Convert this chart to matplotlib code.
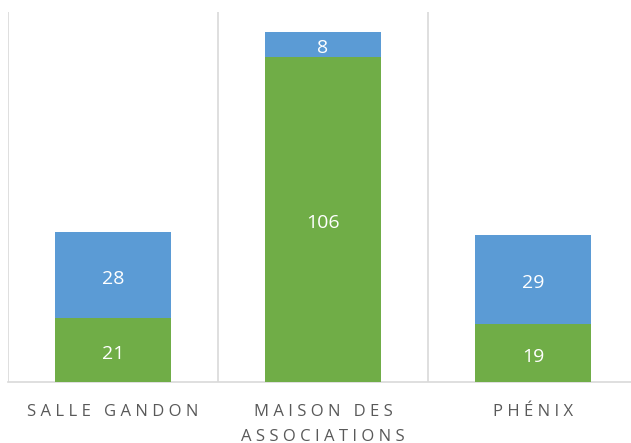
import numpy as np
import matplotlib.pyplot as plt

categories = ["SALLE GANDON", "MAISON DES\nASSOCIATIONS", "PHÉNIX"]
green_vals = [21, 106, 19]
blue_vals = [28, 8, 29]

GREEN = "#70AD47"
BLUE = "#5B9BD5"
GRID = "#D9D9D9"
TEXT = "#595959"

plt.rcParams['font.family'] = ['Open Sans', 'DejaVu Sans']


def spaced(s):
    # mimic the wide letter spacing of the original labels with thin spaces
    return "\n".join("\u2009\u200a".join(line) for line in s.split("\n"))


fig = plt.figure(figsize=(6.31, 4.43), dpi=100)
W, H = 631, 443
left, right_px, base, top = 8, 631, 382, 12
ax = fig.add_axes([left / W, (H - base) / H, (right_px - left) / W, (base - top) / H])

cat_px = 210.0
x = np.arange(len(categories))
ax.set_xlim(-0.5, -0.5 + (right_px - left) / cat_px)
ax.set_ylim(0, 120.5)

width = 0.556
b1 = ax.bar(x, green_vals, width, color=GREEN, zorder=3)
b2 = ax.bar(x, blue_vals, width, bottom=green_vals, color=BLUE, zorder=3)
labels = ax.bar_label(b1, label_type='center', color='white', fontsize=14)
labels += ax.bar_label(b2, label_type='center', color='white', fontsize=14)
for t in labels:
    t.xyann = (0, -3)

for xv in [-0.5, 0.5, 1.5]:
    ax.axvline(xv, color=GRID, lw=1.2, zorder=1)

for s in ['top', 'right', 'left']:
    ax.spines[s].set_visible(False)
ax.spines['bottom'].set_color(GRID)
ax.spines['bottom'].set_linewidth(1.2)

ax.set_yticks([])
ax.set_xticks(x)
ax.set_xticklabels([spaced(c) for c in categories], color=TEXT, fontsize=12, linespacing=1.7)
ax.tick_params(axis='x', length=0, pad=16)

fig.savefig("out.png", dpi=100)
